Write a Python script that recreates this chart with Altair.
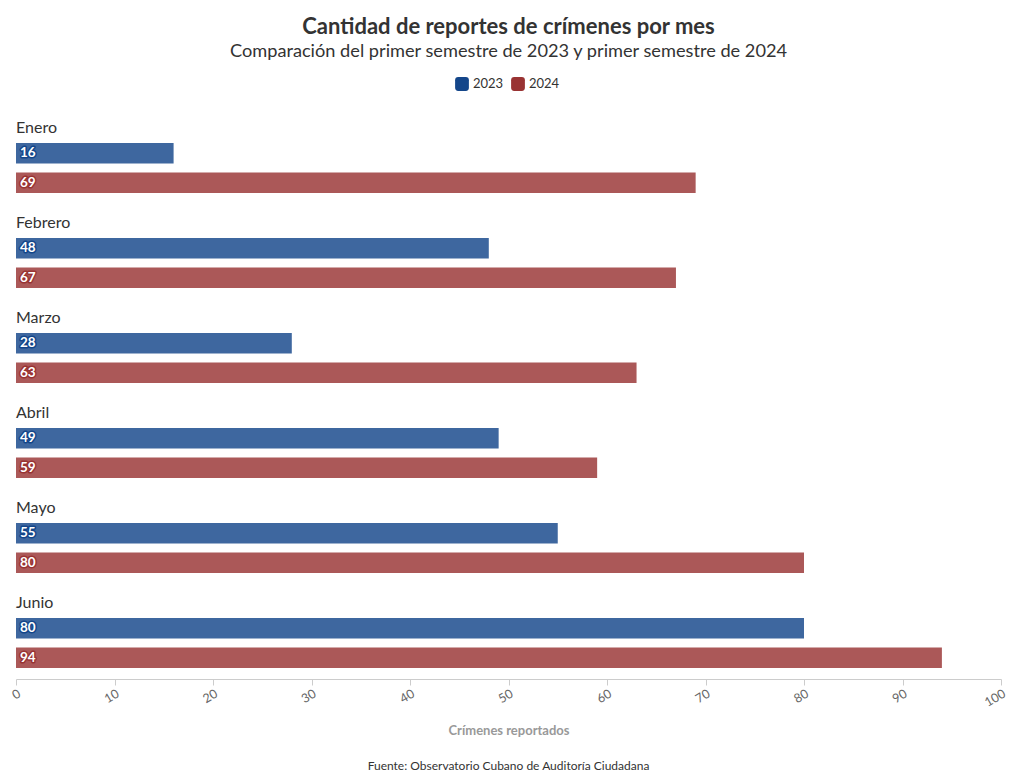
import altair as alt
import pandas as pd

months = ["Enero", "Febrero", "Marzo", "Abril", "Mayo", "Junio"]
years = ["2023", "2024"]
values_2023 = [16, 48, 28, 49, 55, 80]
values_2024 = [69, 67, 63, 59, 80, 94]
x_ticks = [0, 10, 20, 30, 40, 50, 60, 70, 80, 90, 100]
colors = ["#14468a", "#993333"]
title_text = "Cantidad de reportes de crímenes por mes"
subtitle_text = "Comparación del primer semestre de 2023 y primer semestre de 2024"
x_title = "Crímenes reportados"
source_text = "Fuente: Observatorio Cubano de Auditoría Ciudadana"

rows = []
for m, a, b in zip(months, values_2023, values_2024):
    rows.append({"mes": m, "anio": "2023", "valor": a})
    rows.append({"mes": m, "anio": "2024", "valor": b})
df = pd.DataFrame(rows)
df_months = pd.DataFrame({"mes": months})
df_src = pd.DataFrame({"t": [source_text]})

FONT = "Lato"
W, H = 985, 547

yscale = alt.Scale(domain=months, paddingInner=0.472, paddingOuter=0.115)
yenc = alt.Y("mes:N", scale=yscale, axis=None, sort=months)
yoff = alt.YOffset("anio:N", scale=alt.Scale(domain=years, paddingInner=0.3, paddingOuter=0), sort=years)
color = alt.Color(
    "anio:N",
    scale=alt.Scale(domain=years, range=colors),
    legend=alt.Legend(
        title=None, orient="none", direction="horizontal", legendX=438, legendY=-56,
        symbolType="M-1,-0.55 Q-1,-1 -0.55,-1 L0.55,-1 Q1,-1 1,-0.55 L1,0.55 Q1,1 0.55,1 L-0.55,1 Q-1,1 -1,0.55 Z",
        symbolSize=190, symbolOpacity=1, labelFontSize=13, labelColor="#333", labelFont=FONT,
        columnPadding=6, labelOffset=3,
    ),
)

xscale = alt.Scale(domain=[0, 100], nice=False)
xaxis = alt.Axis(
    values=x_ticks, labelAngle=-30, grid=False, domainColor="#cccccc", tickColor="#cccccc",
    tickSize=6, labelColor="#666666", labelFontSize=12.5, labelFont=FONT,
    title=x_title, titleFont=FONT, titleFontSize=13, titleColor="#999999", titleFontWeight="bold",
    titlePadding=16,
)

bars = alt.Chart(df).mark_bar(opacity=0.82).encode(
    x=alt.X("valor:Q", scale=xscale, axis=xaxis),
    y=yenc,
    yOffset=yoff,
    color=color,
)

label_stroke = alt.Chart(df).mark_text(
    align="left", baseline="middle", dx=4, fontSize=13.5, fontWeight="bold", font=FONT,
    strokeWidth=3, strokeJoin="round",
).encode(
    x=alt.datum(0),
    y=yenc,
    yOffset=yoff,
    text="valor:Q",
    stroke=alt.Color("anio:N", scale=alt.Scale(domain=years, range=colors), legend=None),
    fill=alt.Color("anio:N", scale=alt.Scale(domain=years, range=colors), legend=None),
)

label_fill = alt.Chart(df).mark_text(
    align="left", baseline="middle", dx=4, fontSize=13.5, fontWeight="bold", font=FONT, color="white",
).encode(
    x=alt.datum(0),
    y=yenc,
    yOffset=yoff,
    text="valor:Q",
)

month_labels = alt.Chart(df_months).mark_text(
    align="left", baseline="middle", dy=-40, fontSize=16, font=FONT, color="#333333",
).encode(
    x=alt.datum(0),
    y=yenc,
    text="mes:N",
)

footer = alt.Chart(df_src).mark_text(
    align="center", baseline="middle", fontSize=12, font=FONT, color="#333333",
).encode(
    x=alt.value(W / 2),
    y=alt.value(634),
    text="t:N",
)

chart = alt.layer(bars, label_stroke, label_fill, month_labels, footer).resolve_scale(
    color="independent", stroke="independent", fill="independent"
).properties(
    width=W, height=H,
    title=alt.TitleParams(
        text=title_text, subtitle=subtitle_text, anchor="middle",
        font=FONT, fontSize=22, fontWeight="bold", color="#333333",
        subtitleFont=FONT, subtitleFontSize=18.2, subtitleColor="#333333",
        offset=15, subtitlePadding=4,
    ),
    padding={"left": 1, "right": 4, "top": 7, "bottom": 2},
).configure(background="white").configure_view(stroke=None)

chart.save("out.html", embed_options={"renderer": "svg", "actions": False})
